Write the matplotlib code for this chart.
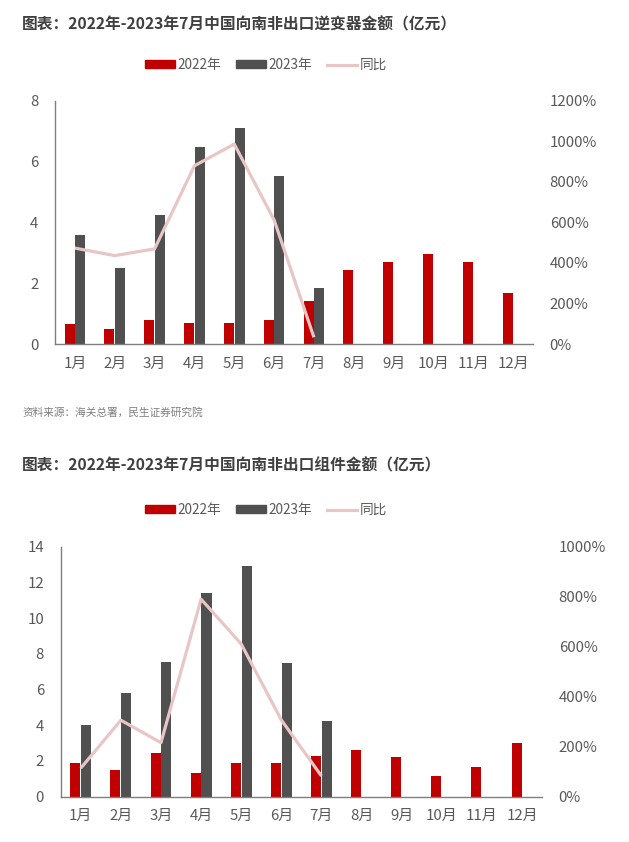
import matplotlib
matplotlib.use("Agg")
import matplotlib.pyplot as plt
from matplotlib.patches import Patch
from matplotlib.lines import Line2D
import numpy as np

plt.rcParams['font.family'] = ['Noto Sans CJK SC', 'DejaVu Sans']

months = [f"{i}月" for i in range(1, 13)]

# chart 1: inverters
inv_2022 = [0.65, 0.50, 0.78, 0.69, 0.68, 0.80, 1.41, 2.44, 2.71, 2.97, 2.71, 1.68]
inv_2023 = [3.57, 2.51, 4.25, 6.49, 7.09, 5.54, 1.83]
inv_yoy = [473, 436, 469, 879, 986, 612, 33]

# chart 2: modules
mod_2022 = [1.87, 1.48, 2.43, 1.33, 1.87, 1.87, 2.30, 2.60, 2.22, 1.16, 1.64, 2.99]
mod_2023 = [4.00, 5.81, 7.54, 11.41, 12.94, 7.47, 4.24]
mod_yoy = [114, 306, 216, 790, 611, 307, 83]

RED = '#C00000'
GRAY = '#505050'
PINK = '#E8C6C6'
TXT = '#595959'
W, H = 629, 842

fig = plt.figure(figsize=(W / 100, H / 100), dpi=100)


def px_axes(left, top, right, bottom):
    return fig.add_axes([left / W, 1 - bottom / H, (right - left) / W, (bottom - top) / H])


def draw(ax, v22, v23, yoy, ymax, ystep, rmax, rstep):
    x = np.arange(len(months))
    ax.bar(x - 0.135, v22, width=0.25, color=RED)
    ax.bar(x[:len(v23)] + 0.135, v23, width=0.25, color=GRAY)
    ax.set_xlim(-0.5, len(months) - 0.5)
    ax.set_ylim(0, ymax)
    ax.set_yticks(np.arange(0, ymax + 0.01, ystep))
    ax.set_xticks(x)
    ax.set_xticklabels(months)
    for s in ['top', 'right']:
        ax.spines[s].set_visible(False)
    for s in ['left', 'bottom']:
        ax.spines[s].set_color('#7F7F7F')
        ax.spines[s].set_linewidth(1.0)
    ax.tick_params(length=0, labelsize=10.8, colors=TXT)
    ax.tick_params(axis='y', pad=12)
    ax.tick_params(axis='x', pad=9)
    ax2 = ax.twinx()
    ax2.plot(x[:len(yoy)], yoy, color=PINK, lw=2.3, solid_capstyle='butt')
    ax2.set_ylim(0, rmax)
    ticks = np.arange(0, rmax + 1, rstep)
    ax2.set_yticks(ticks)
    ax2.set_yticklabels([f"{int(t)}%" for t in ticks])
    for s in ax2.spines.values():
        s.set_visible(False)
    ax2.tick_params(length=0, labelsize=10.8, colors=TXT, pad=12)


def legend(y):
    handles = [Patch(color=RED), Patch(color=GRAY), Line2D([], [], color=PINK, lw=2.3)]
    fig.legend(handles, ['2022年', '2023年', '同比'], loc='center',
               bbox_to_anchor=(266 / W, 1 - y / H), ncol=3, frameon=False,
               fontsize=9.8, handlelength=2.2, handleheight=0.55,
               handletextpad=0.2, columnspacing=1.1, labelcolor=TXT)


fig.text(22 / W, 1 - 24 / H, '图表：2022年-2023年7月中国向南非出口逆变器金额（亿元）',
         fontsize=11.3, fontweight='bold', color='#404040', va='center', ha='left')
legend(65)
ax1 = px_axes(55, 100.7, 533, 344)
draw(ax1, inv_2022, inv_2023, inv_yoy, 8, 2, 1200, 200)

fig.text(22 / W, 1 - 412 / H, '资料来源：海关总署，民生证券研究院',
         fontsize=7.7, color='#7F7F7F', va='center', ha='left')

fig.text(22 / W, 1 - 465 / H, '图表：2022年-2023年7月中国向南非出口组件金额（亿元）',
         fontsize=11.3, fontweight='bold', color='#404040', va='center', ha='left')
legend(510)
ax3 = px_axes(60.7, 546.7, 542, 796.7)
draw(ax3, mod_2022, mod_2023, mod_yoy, 14, 2, 1000, 200)

fig.savefig('out.png', dpi=100)
